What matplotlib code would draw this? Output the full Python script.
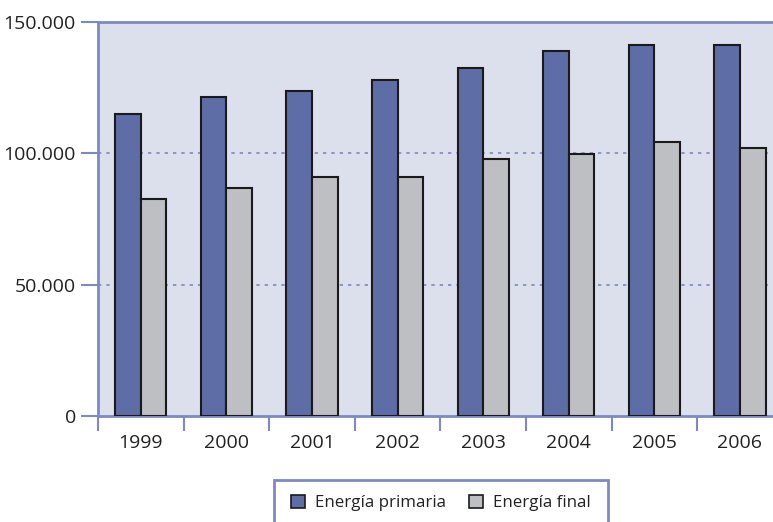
import matplotlib
matplotlib.use("Agg")
import matplotlib.pyplot as plt
import numpy as np
from matplotlib.patches import Rectangle, Patch
from matplotlib.ticker import FuncFormatter

years = ["1999", "2000", "2001", "2002", "2003", "2004", "2005", "2006"]
primaria = [115000, 121400, 123700, 127900, 132500, 139000, 141200, 141200]
final = [82600, 86800, 91000, 91000, 97800, 99700, 104300, 102000]
yticks = [0, 50000, 100000, 150000]

blue = "#5E6DA5"
gray = "#BEBFC3"
bg = "#DCDFEC"
axcol = "#7D89C0"

plt.rcParams['font.family'] = ['Open Sans', 'DejaVu Sans']

W, H = 773, 522
fig = plt.figure(figsize=(W/100, H/100), dpi=100)
left, right, top, bottom = 98, 773, 22, 416
ax = fig.add_axes([left/W, 1-bottom/H, (right-left)/W, (bottom-top)/H])
ax.set_facecolor(bg)

x = np.arange(len(years))
bw = 0.30
ax.bar(x - bw/2, primaria, bw, color=blue, edgecolor="#1a1a1a", linewidth=1.5, zorder=3)
ax.bar(x + bw/2, final, bw, color=gray, edgecolor="#1a1a1a", linewidth=1.5, zorder=3)

step = 85.6
ax.set_yticks(yticks)
ax.yaxis.set_major_formatter(FuncFormatter(lambda v, p: f"{int(v):,}".replace(",", ".")))
ax.set_xticks(x)
ax.set_xticklabels(years)
ax.set_xticks(np.arange(-0.5, len(years)+0.5, 1), minor=True)
ax.set_xlim(-0.5, -0.5 + (right-left)/step)
ax.set_ylim(0, 150000)
ax.tick_params(axis='x', which='major', length=0, pad=13, labelsize=14, labelcolor="#222222")
ax.tick_params(axis='x', which='minor', length=11, width=1.5, color=axcol, direction='out')
ax.tick_params(axis='y', length=12, width=1.5, color=axcol, labelsize=14, labelcolor="#222222", pad=4)

for v in yticks[1:3]:
    ax.axhline(v, color=axcol, linestyle=(0, (2, 3)), linewidth=1.2, zorder=1)

for s in ['left', 'bottom', 'top']:
    ax.spines[s].set_color(axcol)
    ax.spines[s].set_linewidth(2)
ax.spines['right'].set_visible(False)

# legend box
lx0, lx1, ly0 = 274, 608, 480
fig.patches.append(Rectangle((lx0/W, -0.05), (lx1-lx0)/W, 1-ly0/H+0.05, transform=fig.transFigure,
                             facecolor="white", edgecolor=axcol, linewidth=2))
handles = [Patch(facecolor=blue, edgecolor="#1a1a1a", linewidth=1.2, label="Energía primaria"),
           Patch(facecolor=gray, edgecolor="#1a1a1a", linewidth=1.2, label="Energía final")]
fig.legend(handles=handles, loc='center', bbox_to_anchor=((lx0+lx1)/2/W, 1-503/H), ncol=2,
           frameon=False, fontsize=12.2, handlelength=0.8, handleheight=0.8, columnspacing=1.4,
           handletextpad=0.6, labelcolor="#222222")

fig.savefig("out.png", dpi=100)
